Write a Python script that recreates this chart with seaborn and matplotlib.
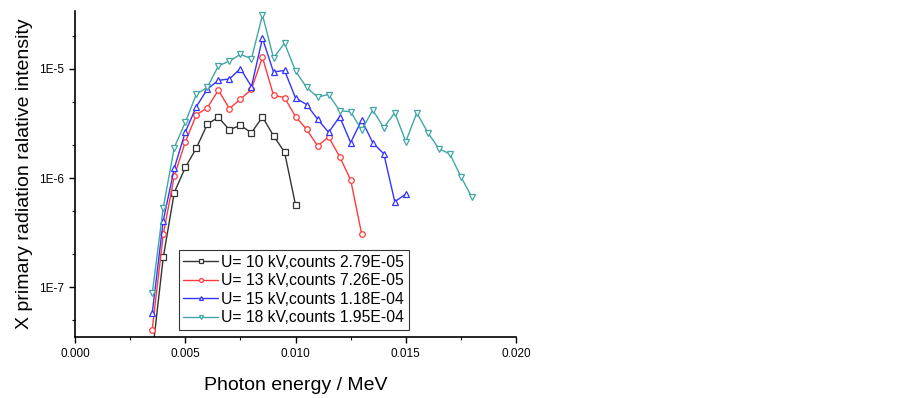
import numpy as np
import pandas as pd
import seaborn as sns
import matplotlib
matplotlib.use("Agg")
import matplotlib.pyplot as plt
from matplotlib.ticker import LogLocator, FuncFormatter, MultipleLocator, NullFormatter

# photon energy grid (MeV), step 0.0005 from 0.0035
energy = [0.0035 + 0.0005 * i for i in range(30)]

i10 = [2.4e-8, 1.87e-7, 7.36e-7, 1.25e-6, 1.88e-6, 3.12e-6, 3.6e-6, 2.77e-6, 3.04e-6,
       2.6e-6, 3.63e-6, 2.44e-6, 1.73e-6, 5.65e-7]
i13 = [4.09e-8, 3.04e-7, 1.04e-6, 2.14e-6, 3.79e-6, 4.42e-6, 6.38e-6, 4.33e-6, 5.27e-6,
       6.52e-6, 1.28e-5, 5.74e-6, 5.46e-6, 3.66e-6, 2.8e-6, 1.97e-6, 2.38e-6, 1.57e-6,
       9.6e-7, 3.06e-7]
i15 = [5.74e-8, 4.06e-7, 1.23e-6, 2.64e-6, 4.51e-6, 6.52e-6, 7.87e-6, 8.09e-6, 1.007e-5,
       6.89e-6, 1.91e-5, 9.38e-6, 9.69e-6, 5.42e-6, 4.72e-6, 3.46e-6, 2.62e-6, 3.65e-6,
       2.11e-6, 3.41e-6, 2.11e-6, 1.67e-6, 6.07e-7, 7.13e-7]
i18 = [8.75e-8, 5.35e-7, 1.90e-6, 3.24e-6, 5.86e-6, 6.79e-6, 1.066e-5, 1.18e-5, 1.36e-5,
       1.24e-5, 3.13e-5, 1.26e-5, 1.72e-5, 9.59e-6, 6.76e-6, 5.53e-6, 5.83e-6, 4.14e-6,
       4.05e-6, 2.75e-6, 4.21e-6, 2.89e-6, 3.97e-6, 2.16e-6, 3.97e-6, 2.6e-6, 1.86e-6,
       1.66e-6, 1.03e-6, 6.65e-7]

labels = ["U= 10 kV,counts 2.79E-05", "U= 13 kV,counts 7.26E-05",
          "U= 15 kV,counts 1.18E-04", "U= 18 kV,counts 1.95E-04"]
series = [i10, i13, i15, i18]
colors = ["#333333", "#ff3b3b", "#3434ff", "#40a6a6"]
markers = ["s", "o", "^", "v"]

sns.set_style("ticks")
plt.rcParams["font.family"] = ["Liberation Sans", "DejaVu Sans"]
plt.rcParams["text.color"] = "black"
plt.rcParams["axes.labelcolor"] = "black"

fig = plt.figure(figsize=(9.03, 3.98), dpi=100)
ax = fig.add_axes([0.0831, 0.1525, 0.4884, 0.82])

for vals, lab, col, mk in zip(series, labels, colors, markers):
    df = pd.DataFrame({"E": energy[:len(vals)], "I": vals})
    sns.lineplot(data=df, x="E", y="I", ax=ax, color=col, marker=mk, markersize=4,
                 markerfacecolor="white", markeredgecolor=col, markeredgewidth=0.9,
                 linewidth=1.0, label=lab)

ax.set_yscale("log")
ax.set_xlim(0, 0.02)
ax.set_ylim(3.47e-8, 3.4e-5)
ax.xaxis.set_major_locator(MultipleLocator(0.005))
ax.xaxis.set_minor_locator(MultipleLocator(0.0025))
ax.xaxis.set_major_formatter(FuncFormatter(lambda v, p: f"{v:.3f}"))
ax.yaxis.set_major_locator(LogLocator(base=10, numticks=10))
ax.yaxis.set_minor_locator(LogLocator(base=10, subs=[2, 5], numticks=10))
ax.yaxis.set_major_formatter(FuncFormatter(lambda v, p: f"1E{int(round(np.log10(v)))}"))
ax.yaxis.set_minor_formatter(NullFormatter())

ax.tick_params(which="major", direction="out", length=4, width=1, labelsize=8.5,
               colors="black", pad=4)
ax.tick_params(which="minor", direction="out", length=2.5, width=0.8, colors="black")
for s in ["top", "right"]:
    ax.spines[s].set_visible(False)
for s in ["left", "bottom"]:
    ax.spines[s].set_linewidth(1.2)
    ax.spines[s].set_color("black")

ax.set_xlabel("Photon energy / MeV", fontsize=14, labelpad=12)
ax.set_ylabel("X primary radiation ralative intensity", fontsize=14, labelpad=4)

leg = ax.legend(loc="upper left", bbox_to_anchor=(0.235, 0.2675), borderaxespad=0,
                fontsize=11.3, frameon=True, fancybox=False, labelspacing=0.22,
                handlelength=2.2, handletextpad=0.2, borderpad=0.3, markerscale=0.7)
leg.get_frame().set_edgecolor("black")
leg.get_frame().set_linewidth(0.8)

fig.savefig("out.png", dpi=100)
